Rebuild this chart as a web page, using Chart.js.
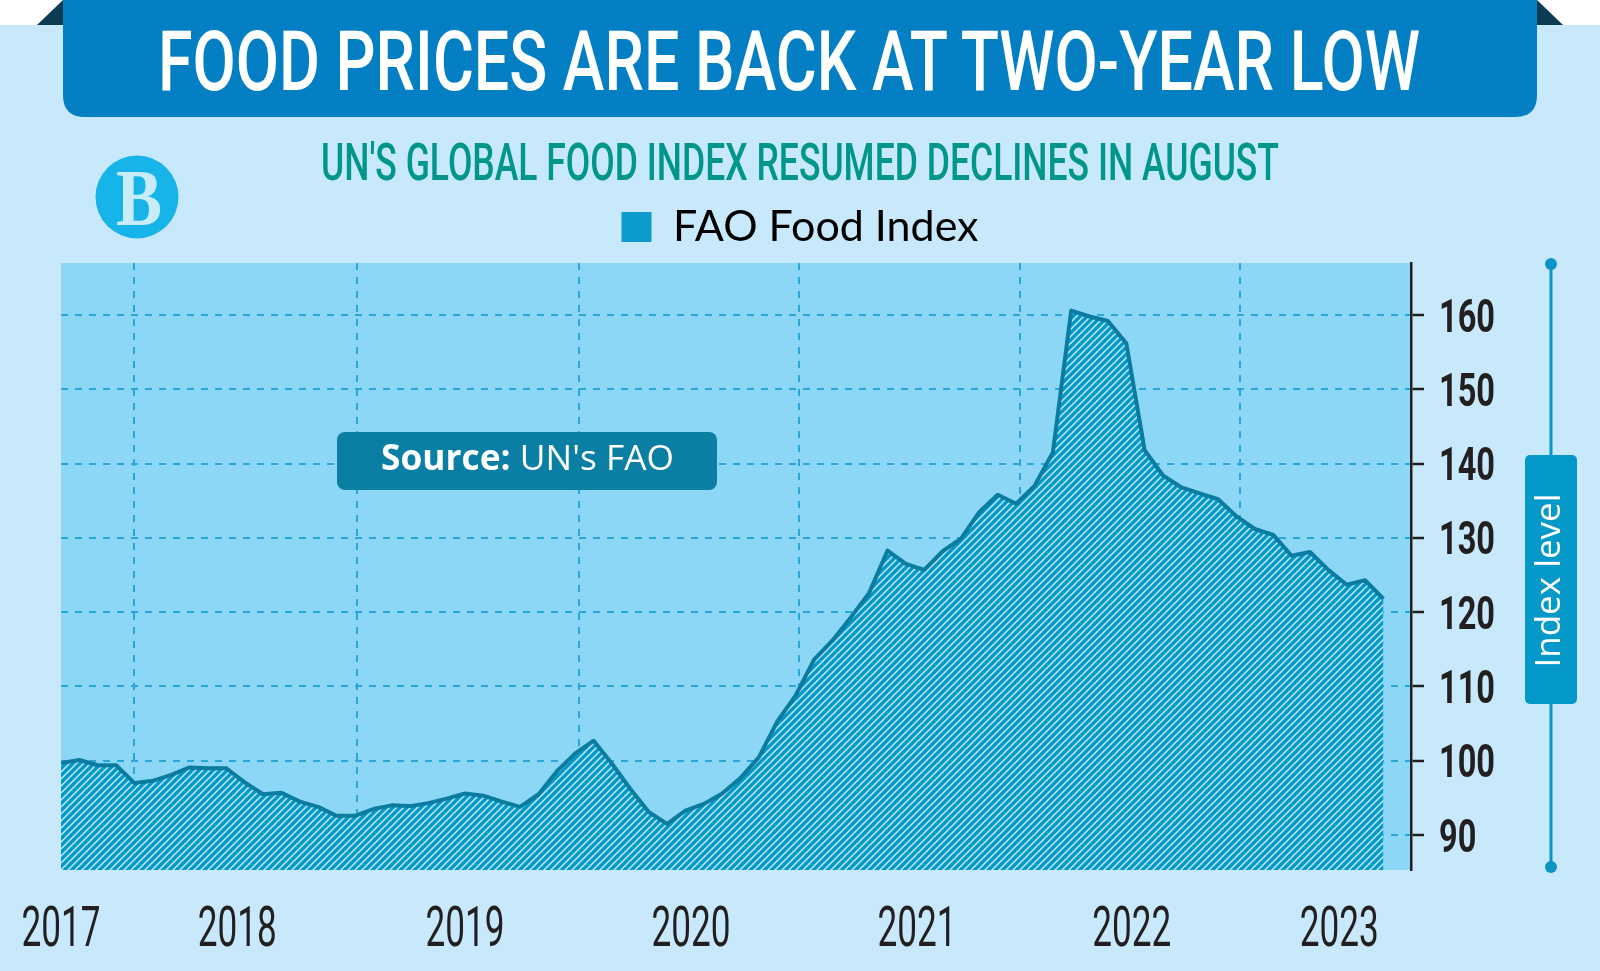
<!DOCTYPE html>
<html>
<head>
<meta charset="utf-8">
<title>Food prices are back at two-year low</title>
<script src="https://cdn.jsdelivr.net/npm/chart.js@4.4.0/dist/chart.umd.min.js"></script>
<style>
  html, body { margin: 0; padding: 0; }
  body { width: 1600px; height: 971px; background: #c8e9fb; position: relative; overflow: hidden; }
  #chart { position: absolute; left: 0; top: 0; }
  #overlay { position: absolute; left: 0; top: 0; pointer-events: none; }
</style>
</head>
<body>
<canvas id="chart" width="1600" height="971"></canvas>
<svg id="overlay" width="1600" height="971" viewBox="0 0 1600 971">
  <rect x="0" y="0" width="1600" height="25" fill="#ffffff"/>
  <polygon points="37,25 63,0 63,25" fill="#0b3c52"/>
  <polygon points="1563,25 1537,0 1537,25" fill="#0b3c52"/>
  <path d="M63,0 H1537 V95 Q1537,117 1515,117 H85 Q63,117 63,95 Z" fill="#047fc4"/>
  <text x="789" y="90" text-anchor="middle" font-family="Roboto" font-weight="500" font-size="83" fill="#ffffff" textLength="1262" lengthAdjust="spacingAndGlyphs">FOOD PRICES ARE BACK AT TWO-YEAR LOW</text>
  <text x="800" y="180" text-anchor="middle" font-family="Roboto" font-weight="500" font-size="52" fill="#00968c" textLength="958" lengthAdjust="spacingAndGlyphs">UN'S GLOBAL FOOD INDEX RESUMED DECLINES IN AUGUST</text>

  <circle cx="137" cy="197" r="41.5" fill="#17b4ea"/>
  <text x="139" y="225" text-anchor="middle" font-family="Liberation Serif" font-weight="bold" font-size="80" fill="#c9ecfb" textLength="46" lengthAdjust="spacingAndGlyphs">B</text>

  <rect x="337" y="432" width="380" height="58" rx="8" fill="#0a7fa3"/>
  <text x="381" y="470" font-family="Open Sans" font-size="35" fill="#ffffff" textLength="293" lengthAdjust="spacingAndGlyphs"><tspan font-weight="700">Source:</tspan> UN's FAO</text>

  <line x1="1551" y1="264" x2="1551" y2="867" stroke="#0b95c6" stroke-width="3"/>
  <circle cx="1551" cy="264" r="6" fill="#0b95c6"/>
  <circle cx="1551" cy="867" r="6" fill="#0b95c6"/>
  <rect x="1525" y="455" width="52" height="249" rx="5" fill="#0599c9"/>
  <text transform="translate(1560,580.5) rotate(-90)" text-anchor="middle" font-family="Open Sans" font-size="35" fill="#ffffff">Index level</text>
</svg>
<script>
// -------- Data --------
const months = [
  "2017-08","2017-09","2017-10","2017-11","2017-12",
  "2018-01","2018-02","2018-03","2018-04","2018-05","2018-06","2018-07","2018-08","2018-09","2018-10","2018-11","2018-12",
  "2019-01","2019-02","2019-03","2019-04","2019-05","2019-06","2019-07","2019-08","2019-09","2019-10","2019-11","2019-12",
  "2020-01","2020-02","2020-03","2020-04","2020-05","2020-06","2020-07","2020-08","2020-09","2020-10","2020-11","2020-12",
  "2021-01","2021-02","2021-03","2021-04","2021-05","2021-06","2021-07","2021-08","2021-09","2021-10","2021-11","2021-12",
  "2022-01","2022-02","2022-03","2022-04","2022-05","2022-06","2022-07","2022-08","2022-09","2022-10","2022-11","2022-12",
  "2023-01","2023-02","2023-03","2023-04","2023-05","2023-06","2023-07","2023-08"
];
const foodIndex = [
  99.7, 100.1, 99.4, 99.4, 97.0,
  97.3, 98.1, 99.1, 99.0, 99.0, 97.1, 95.5, 95.7, 94.5, 93.8, 92.6, 92.6,
  93.5, 94.0, 93.9, 94.3, 94.9, 95.6, 95.3, 94.5, 93.8, 95.5, 98.6, 101.0,
  102.7, 99.6, 96.2, 93.1, 91.5, 93.3, 94.2, 95.6, 97.7, 100.5, 105.3, 108.8,
  113.6, 116.2, 119.3, 122.6, 128.3, 126.5, 125.7, 128.2, 129.9, 133.5, 135.8, 134.6,
  137.0, 141.5, 160.6, 159.8, 159.2, 156.2, 141.8, 138.4, 136.8, 136.0, 135.2, 132.9,
  131.2, 130.4, 127.6, 128.1, 125.7, 123.7, 124.3, 121.8
];
const yearLabels = ["2017", "2018", "2019", "2020", "2021", "2022", "2023"];
const yearTickPos = [0, 9.6, 22.0, 34.3, 46.6, 58.3, 69.6];   // month index under each year label
const gridMonths = [4, 16.1, 28.2, 40.2, 52.2, 64.2];         // dashed vertical lines
const yTicks = [90, 100, 110, 120, 130, 140, 150, 160];

// -------- Helpers --------
const canvas = document.getElementById("chart");
const ctx = canvas.getContext("2d");

function hatch(){
  const s = 7, c = document.createElement("canvas");
  c.width = c.height = s;
  const g = c.getContext("2d");
  g.fillStyle = "#0598c8";
  g.fillRect(0, 0, s, s);
  g.strokeStyle = "rgba(212,243,253,0.9)";
  g.lineWidth = 1.5;
  g.beginPath();
  g.moveTo(0, s); g.lineTo(s, 0);
  g.moveTo(-1, 1); g.lineTo(1, -1);
  g.moveTo(s - 1, s + 1); g.lineTo(s + 1, s - 1);
  g.stroke();
  return ctx.createPattern(c, "repeat");
}

const plotBg = {
  id: "plotBg",
  beforeDraw(chart){
    const a = chart.chartArea, c = chart.ctx;
    c.save();
    c.fillStyle = "#8dd7f6";
    c.fillRect(a.left, a.top, a.right - a.left, a.bottom - a.top);
    c.restore();
  }
};

// condensed tick labels, placed with the chart's own scales
const axisText = {
  id: "axisText",
  afterDraw(chart){
    const c = chart.ctx, ys = chart.scales.y, xs = chart.scales.x;
    c.save();
    c.fillStyle = "#231f20";
    c.textBaseline = "alphabetic";
    c.textAlign = "left";
    c.font = "bold 46px Roboto";
    let sx = 56 / c.measureText("160").width;
    yTicks.forEach(v => {
      c.save();
      c.translate(ys.left + 28, ys.getPixelForValue(v) + 16.5);
      c.scale(sx, 1);
      c.fillText(String(v), 0, 0);
      c.restore();
    });
    c.textAlign = "center";
    c.font = "400 56px Roboto";
    sx = 79 / c.measureText("2017").width;
    yearLabels.forEach((t, i) => {
      c.save();
      c.translate(xs.getPixelForValue(yearTickPos[i]), xs.top + 76);
      c.scale(sx, 1);
      c.fillText(t, 0, 0);
      c.restore();
    });
    c.restore();
  }
};

new Chart(ctx, {
  type: "line",
  data: {
    labels: months,
    datasets: [{
      label: "FAO Food Index",
      data: foodIndex.map((v, i) => ({ x: i, y: v })),
      borderColor: "#0a7ca0",
      borderWidth: 4,
      borderJoinStyle: "round",
      backgroundColor: hatch(),
      fill: "start",
      pointRadius: 0,
      tension: 0,
      xAxisID: "x",
      yAxisID: "y"
    }]
  },
  options: {
    responsive: false,
    animation: false,
    layout: { padding: { top: 195.5, left: 0, right: 0, bottom: 0 } },
    plugins: {
      legend: {
        position: "top",
        labels: {
          font: { family: "Lato", size: 43 },
          color: "#231f20",
          boxWidth: 30,
          boxHeight: 30,
          padding: 10,
          generateLabels: () => [{
            text: "FAO Food Index", fillStyle: "#0b9ccc", strokeStyle: "#0b9ccc",
            lineWidth: 0, hidden: false, datasetIndex: 0
          }]
        }
      },
      tooltip: { enabled: false }
    },
    scales: {
      x: {
        type: "linear", position: "bottom", min: 0, max: 73.5,
        afterBuildTicks: s => { s.ticks = yearTickPos.map(v => ({ value: v })); },
        ticks: { display: false },
        grid: { display: false },
        border: { display: false },
        afterFit: s => { s.height = 101; }
      },
      x2: {
        type: "linear", position: "top", min: 0, max: 73.5,
        afterBuildTicks: s => { s.ticks = gridMonths.map(v => ({ value: v })); },
        ticks: { display: false },
        grid: { color: "#2ba6d9", lineWidth: 2, drawTicks: false },
        border: { display: false, dash: [7, 7] },
        afterFit: s => { s.height = 4.5; }
      },
      yL: {
        type: "linear", position: "left",
        ticks: { display: false },
        grid: { display: false },
        border: { display: false },
        afterFit: s => { s.width = 61; }
      },
      y: {
        type: "linear", position: "right", min: 85.3, max: 167,
        afterBuildTicks: s => { s.ticks = yTicks.map(v => ({ value: v })); },
        ticks: { display: false },
        grid: { color: "#2ba6d9", lineWidth: 2, tickColor: "#231f20", tickWidth: 2.5, tickLength: 13, tickBorderDash: [] },
        border: { color: "#231f20", width: 2.5, dash: [7, 7] },
        afterFit: s => { s.width = 189; }
      }
    }
  },
  plugins: [plotBg, axisText]
});
</script>
</body>
</html>
